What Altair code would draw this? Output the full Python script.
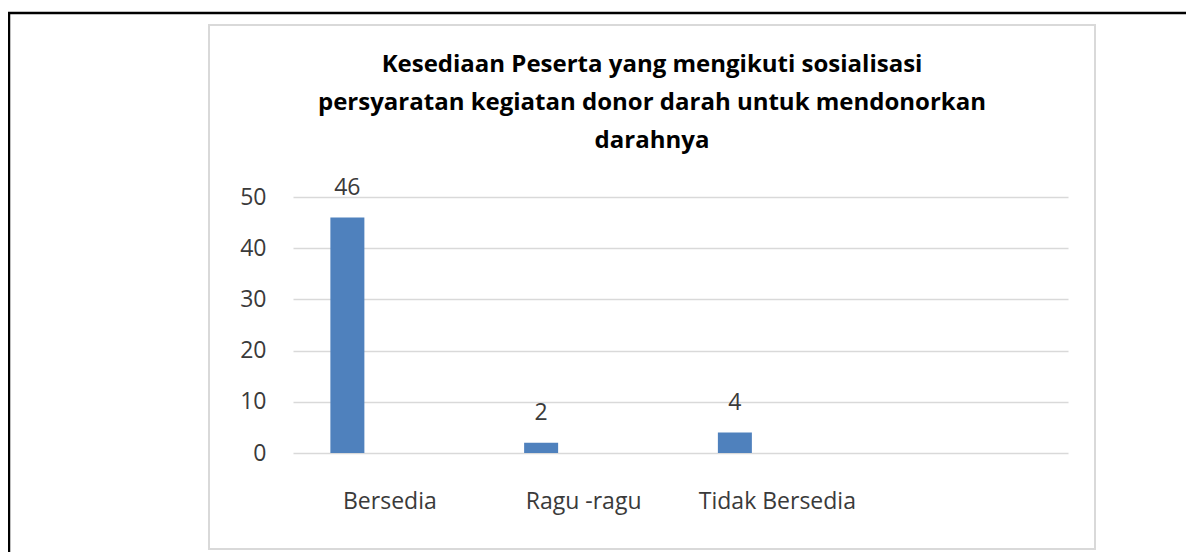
import altair as alt
import pandas as pd

categories = ["Bersedia", "Ragu -ragu", "Tidak Bersedia"]
values = [46, 2, 4]
slots = categories + [""]
y_ticks = [0, 10, 20, 30, 40, 50]
title_lines = [
    "Kesediaan Peserta yang mengikuti sosialisasi",
    "persyaratan kegiatan donor darah untuk mendonorkan",
    "darahnya",
]

df = pd.DataFrame({"cat": categories, "val": values})

FONT = "Open Sans"
TXT = "#3a3a3a"

x_enc = alt.X(
    "cat:N",
    sort=slots,
    scale=alt.Scale(domain=slots, paddingInner=0, paddingOuter=0),
    axis=alt.Axis(
        title=None, labelAngle=0, domain=False, ticks=False, tickSize=0,
        labelPadding=37, labelFontSize=23, labelColor=TXT, labelFont=FONT,
        grid=False, labelOverlap=False,
    ),
)
y_enc = alt.Y(
    "val:Q",
    scale=alt.Scale(domain=[0, 50], nice=False),
    axis=alt.Axis(
        title=None, values=y_ticks, domain=False, ticks=False, tickSize=0,
        labelPadding=27, labelFontSize=23, labelColor=TXT, labelFont=FONT,
        grid=True, gridColor="#d9d9d9", gridWidth=1.5,
    ),
)

deco = alt.Data(values=[{"k": 1}])

outer = alt.Chart(deco).mark_rect(
    fillOpacity=0, stroke="#000000", strokeWidth=2.5
).encode(
    x=alt.value(-284), x2=alt.value(910), y=alt.value(-184), y2=alt.value(370)
)
box = alt.Chart(deco).mark_rect(
    fillOpacity=0, stroke="#d9d9d9", strokeWidth=2
).encode(
    x=alt.value(-84), x2=alt.value(802), y=alt.value(-172), y2=alt.value(352)
)

bars = alt.Chart(df).mark_bar(color="#4F81BD", size=34, xOffset=-42.5).encode(
    x=x_enc, y=y_enc
)
labels = alt.Chart(df).mark_text(
    xOffset=-42.5, dy=-22.5, baseline="alphabetic", fontSize=23, font=FONT, color=TXT
).encode(x=x_enc, y=y_enc, text="val:Q")

chart = alt.layer(outer, box, bars, labels).properties(
    width=775,
    height=256,
    title=alt.TitleParams(
        text=title_lines, font=FONT, fontSize=24, fontWeight="bold",
        color="#000000", anchor="middle", frame="group", dx=-28.5,
        lineHeight=38, offset=-141,
    ),
    autosize=alt.AutoSizeParams(type="none"),
    padding={"left": 285, "top": 189, "right": 118, "bottom": 99},
    background="white",
).configure_view(stroke=None)

chart.save("out.html", embed_options={"renderer": "svg", "actions": False})
